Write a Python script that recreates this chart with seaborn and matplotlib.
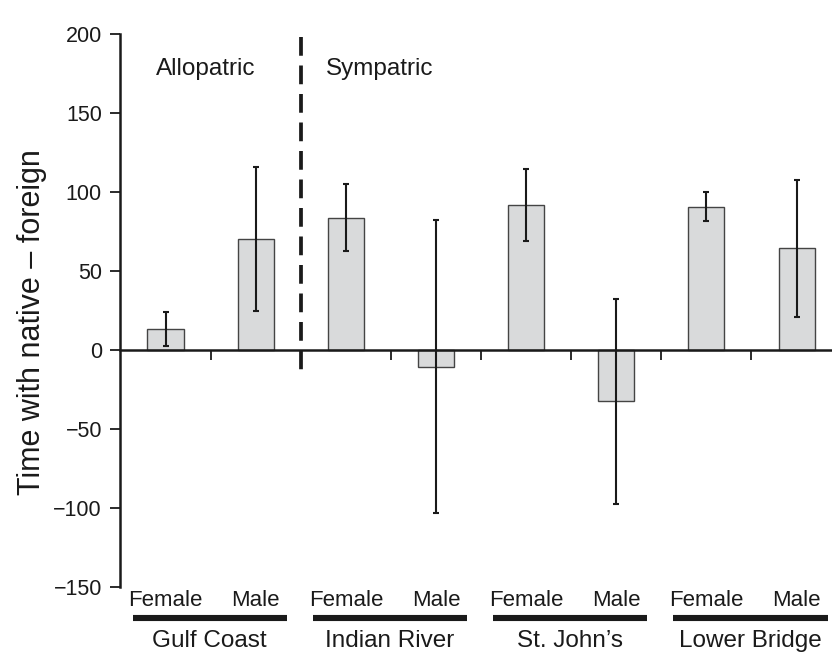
import matplotlib
matplotlib.use("Agg")
import matplotlib.pyplot as plt
import matplotlib.transforms as mtransforms
from matplotlib.lines import Line2D
import seaborn as sns
import pandas as pd
import numpy as np

# ---- data ----
groups = ["Gulf Coast", "Indian River", "St. John\u2019s", "Lower Bridge"]
sexes = ["Female", "Male"]
means = [13.5, 70.5, 84, -10.5, 92, -32, 91, 65]
err_low = [2.5, 25, 63, -103, 69, -97, 82, 21]
err_high = [24.5, 116, 105.5, 82.5, 115, 32.5, 100, 108]
y_ticks = [-150, -100, -50, 0, 50, 100, 150, 200]
region_labels = ["Allopatric", "Sympatric"]

cats = [f"{g} {s}" for g in groups for s in sexes]
df = pd.DataFrame({"cat": cats, "value": means})

sns.set_style("ticks")
plt.rcParams["font.family"] = ["Liberation Sans", "DejaVu Sans"]

fig = plt.figure(figsize=(8.32, 6.53), dpi=100)
ax = fig.add_axes([120 / 832, 1 - 587.3 / 653, 712.6 / 832, (587.3 - 34.3) / 653])

sns.barplot(data=df, x="cat", y="value", order=cats, color="#d9dadb",
            edgecolor="#444444", linewidth=1.0, width=0.4, errorbar=None,
            saturation=1, ax=ax)

xpos = np.arange(len(cats))
lo = np.array(means) - np.array(err_low)
hi = np.array(err_high) - np.array(means)
ax.errorbar(xpos, means, yerr=[lo, hi], fmt="none", ecolor="#1a1a1a",
            elinewidth=1.5, capsize=2.2, capthick=1.5, zorder=5)

ax.set_xlim(-0.505, 7.4)
ax.set_ylim(-150, 200)
ax.set_yticks(y_ticks)
ax.set_yticklabels([f"{t}".replace("-", "\u2212") for t in y_ticks], fontsize=15.5, color="#1a1a1a")

# x axis at zero
ax.spines["bottom"].set_position(("data", 0))
ax.spines["bottom"].set_linewidth(1.8)
ax.spines["bottom"].set_color("#1a1a1a")
ax.spines["left"].set_linewidth(1.8)
ax.spines["left"].set_color("#1a1a1a")
ax.spines["left"].set_bounds(-150, 200)
sns.despine(ax=ax, top=True, right=True)
ax.set_xticks([0.5, 1.5, 2.5, 3.5, 4.5, 5.5, 6.5])
ax.set_xticklabels([])
ax.tick_params(axis="x", direction="out", length=7, width=1.3, color="#1a1a1a")
ax.tick_params(axis="y", direction="out", length=7, width=1.3, color="#1a1a1a", pad=6)
ax.set_xlabel("")
ax.set_ylabel("")

# dashed separator
ax.plot([1.5, 1.5], [198, -14], color="#1a1a1a", lw=2.7,
        linestyle=(0, (5, 2.6)), zorder=6, clip_on=False)

# region labels
ax.text(0.45, 174.5, region_labels[0], ha="center", va="baseline", fontsize=17.5, color="#1a1a1a")
ax.text(1.78, 174.5, region_labels[1], ha="left", va="baseline", fontsize=17.5, color="#1a1a1a")

# sex labels, group bars and group labels
trans = mtransforms.blended_transform_factory(ax.transData, fig.transFigure)
for i, c in enumerate(cats):
    ax.text(i, 1 - 606 / 653, sexes[i % 2], transform=trans, ha="center",
            va="baseline", fontsize=16, color="#1a1a1a", clip_on=False)
for gi, g in enumerate(groups):
    cx = 2 * gi + 0.49
    ln = Line2D([cx - 0.855, cx + 0.855], [1 - 618 / 653] * 2, transform=trans,
                color="#1a1a1a", lw=4.4, solid_capstyle="butt", clip_on=False)
    fig.add_artist(ln)
    ax.text(cx, 1 - 647.3 / 653, g, transform=trans, ha="center", va="baseline",
            fontsize=17.5, color="#1a1a1a", clip_on=False)

fig.text(32 / 832, 1 - 322 / 653, "Time with native \u2013 foreign", rotation=90,
         ha="center", va="center", fontsize=22, color="#1a1a1a")

fig.savefig("out.png", dpi=100)
